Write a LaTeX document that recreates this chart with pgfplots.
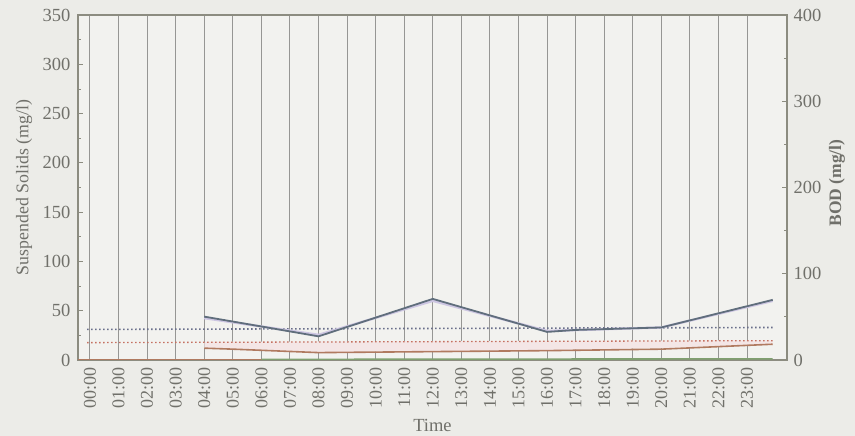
\documentclass[border=0pt]{standalone}
\usepackage{pgfplots}
\pgfplotsset{compat=1.18}
\usepackage{fontspec}
\setmainfont{Liberation Serif}
\definecolor{bg}{RGB}{236,236,232}
\definecolor{plotbg}{RGB}{242,242,239}
\definecolor{axisgray}{RGB}{140,140,128}
\definecolor{txt}{RGB}{112,112,106}
\definecolor{gridc}{RGB}{150,150,148}
\definecolor{slate}{RGB}{96,110,124}
\definecolor{dotblue}{RGB}{105,110,138}
\definecolor{dotred}{RGB}{196,112,96}
\definecolor{brownl}{RGB}{176,122,96}
\definecolor{greenl}{RGB}{128,160,112}
\definecolor{pinkf}{RGB}{244,230,230}
\definecolor{lav}{RGB}{205,198,226}
\begin{document}
\begin{tikzpicture}[x=1pt,y=1pt]
\fill[bg] (-78,-76) rectangle (777,360);
\begin{axis}[at={(0,0)}, anchor=south west, scale only axis,
  width=709pt, height=345pt,
  xmin=-0.42, xmax=24.4, ymin=0, ymax=350,
  axis background/.style={fill=plotbg},
  axis line style={axisgray, line width=1.8pt},
  xtick={0,...,23},
  xticklabels={00:00,01:00,02:00,03:00,04:00,05:00,06:00,07:00,08:00,09:00,10:00,11:00,12:00,13:00,14:00,15:00,16:00,17:00,18:00,19:00,20:00,21:00,22:00,23:00},
  xticklabel style={rotate=90, anchor=east, xshift=-4pt, font=\fontsize{18}{20}\selectfont, text=txt},
  xmajorgrids, major x grid style={gridc, line width=1pt},
  major x tick style={draw=none},
  ytick={0,50,...,350}, minor ytick={25,75,...,325},
  ytick pos=left, yticklabel pos=left,
  yticklabel style={xshift=-4pt, font=\fontsize{18.5}{20}\selectfont, text=txt},
  /pgf/number format/assume math mode=true,
  major tick length=5pt, minor tick length=3pt,
  every tick/.style={axisgray, line width=0.8pt},
  xlabel={Time}, xlabel style={at={(axis description cs:0.5,-0.19)}, anchor=center, font=\fontsize{18.5}{20}\selectfont, text=txt},
  ylabel={Suspended Solids (mg/l)}, ylabel style={at={(axis description cs:-0.076,0.5)}, anchor=center, rotate=0, font=\fontsize{17.8}{20}\selectfont, text=txt},
]
\addplot[fill=pinkf, draw=none] coordinates {(4,12) (8,8) (12,9) (16,10) (20,12) (23.9,16.5) (23.9,20) (4,18.5)} -- cycle;
\addplot[brownl, line width=1.6pt] coordinates {(-0.42,0) (9,0)};
\addplot[greenl, line width=1.6pt] coordinates {(6,0.6) (12,0.8) (18,1) (23.9,1.2)};
\addplot[brownl, line width=1.6pt] coordinates {(4,12) (5,11) (8,7.5) (12,8.5) (16,9.5) (20,11) (23.9,16)};
\addplot[dotred, line width=1.3pt, dash pattern=on 1.5pt off 2.5pt] coordinates {(-0.1,17.6) (23.9,19.6)};
\addplot[dotblue, line width=1.6pt, dash pattern=on 1.5pt off 2.5pt] coordinates {(-0.1,31) (23.9,33)};
\addplot[lav, line width=2.4pt] coordinates {(4,42.5) (8,25.5) (12,60) (16,29.5) (20,33) (23.9,60)};
\addplot[slate, line width=1.8pt] coordinates {(4,44) (8,24) (12,62) (16,28.5) (17,30.5) (20,33) (23.9,61)};
\end{axis}
\begin{axis}[at={(0,0)}, anchor=south west, scale only axis,
  width=709pt, height=345pt,
  xmin=-0.42, xmax=24.4, ymin=0, ymax=400,
  axis x line=none, axis y line*=right,
  axis line style={axisgray, line width=1.8pt, -},
  ytick={0,100,...,400}, minor ytick={50,150,...,350},
  yticklabel style={xshift=3pt, font=\fontsize{18.5}{20}\selectfont, text=txt},
  /pgf/number format/assume math mode=true,
  major tick length=5pt, minor tick length=3pt,
  tick align=inside,
  every tick/.style={axisgray, line width=0.8pt},
  ylabel={\bfseries BOD (mg/l)}, ylabel style={at={(axis description cs:1.0705,0.513)}, anchor=center, rotate=0, font=\fontsize{17.5}{20}\selectfont, text=txt},
]
\end{axis}
\pgfresetboundingbox
\useasboundingbox (-78,-76) rectangle (777,360);
\end{tikzpicture}
\end{document}
